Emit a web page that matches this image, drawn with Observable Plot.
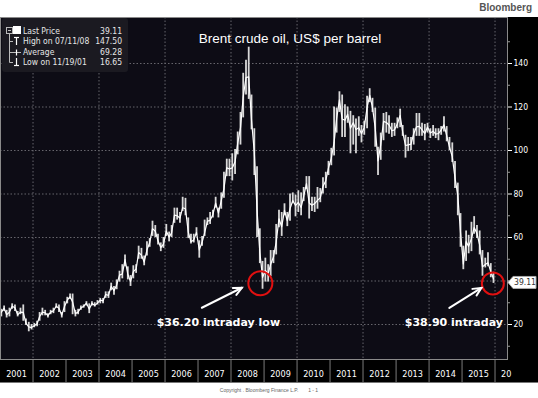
<!DOCTYPE html>
<html><head><meta charset="utf-8">
<script src="https://cdn.jsdelivr.net/npm/d3@7"></script>
<script src="https://cdn.jsdelivr.net/npm/@observablehq/plot@0.6"></script>
<style>
body{margin:0;background:#fff;}
#wrap{position:relative;width:538px;height:398px;overflow:hidden;}
#top{height:17px;position:relative;background:#fff;}
#brand{position:absolute;right:6px;top:2px;font:bold 10px "Liberation Sans",Arial,sans-serif;color:#555;}
#chart svg{display:block;}
#bottom{height:15px;border-top:1px solid #777;background:#fff;text-align:center;font:5px "Liberation Sans",Arial,sans-serif;color:#666;line-height:14px;}
</style></head>
<body><div id="wrap">
<div id="top"><span id="brand">Bloomberg</span></div>
<div id="chart"></div>
<div id="bottom">Copyright . Bloomberg Finance L.P. &nbsp; &nbsp; &nbsp; 1 - 1</div>
</div>
<script>
const title = "Brent crude oil, US$ per barrel";
const yearLabels = ["2001","2002","2003","2004","2005","2006","2007","2008","2009","2010","2011","2012","2013","2014","2015"];
const partialYearLabel = "20";
const yTicks = [20,40,60,80,100,120,140];
const yLabeledTicks = [20,60,80,100,120,140];
const yMinorTicks = [10,30,50,70,90,110,130,150];
const gridYears = [2002,2004,2006,2008,2010,2012,2014,2016];
const legendLabels = ["Last Price","High on 07/11/08","Average","Low on 11/19/01"];
const legendValues = ["39.11","147.50","69.28","16.65"];
const lastPrice = 39.11;
const annoDates = [[2008,11,24],[2015,11,8]];
const annoValues = [36.20, 38.90];
const annoLabels = ["$36.20 intraday low","$38.90 intraday"];

// monthly Brent, Jan 2001 .. Dec 2015
const avg = [
25.6,27.5,24.5,25.7,28.4,27.7,24.5,25.7,25.6,20.5,18.9,18.6,
19.4,20.3,23.7,25.7,25.4,24.1,25.7,26.3,28.4,27.5,24.3,28.3,
31.2,32.8,30.4,25.0,25.8,27.6,28.4,29.8,27.1,29.6,28.8,29.8,
31.2,30.9,33.8,33.4,37.6,35.5,38.2,42.7,43.2,49.8,43.1,39.7,
44.3,45.5,53.1,51.9,48.7,54.3,57.6,64.1,62.9,58.5,55.4,56.9,
62.9,60.2,62.1,70.3,70.0,68.9,73.7,73.2,62.5,58.1,58.9,62.3,
54.3,57.8,62.1,67.5,67.9,70.6,75.8,71.2,77.0,82.5,92.1,91.5,
92.0,94.8,103.3,110.4,124.6,133.5,133.9,113.9,99.1,72.8,53.2,41.6,
44.9,43.4,47.7,51.0,57.9,68.6,64.9,72.5,67.7,73.2,77.0,74.7,
76.2,73.8,78.8,84.8,75.9,74.8,75.6,77.1,78.2,83.5,86.1,92.0,
96.5,103.7,114.6,123.3,114.5,113.9,116.7,110.2,112.8,109.6,110.5,107.7,
110.6,119.7,125.4,119.8,110.3,95.2,102.6,113.4,112.9,111.7,109.1,109.5,
112.3,116.1,108.5,102.3,102.6,102.9,107.7,110.9,111.1,109.5,107.8,110.8,
108.1,108.9,107.5,107.8,109.5,111.8,106.8,101.6,97.1,87.4,79.4,62.3,
47.8,58.1,55.9,59.5,64.6,61.9,56.5,46.5,47.6,48.4,44.3,41.0];
const lo = [
23.5,26.0,23.0,23.5,27.0,26.0,23.5,24.5,21.5,19.5,16.65,17.5,
18.5,19.0,21.5,24.0,24.0,23.0,24.5,25.0,27.5,25.5,23.0,25.5,
29.5,31.5,24.5,23.5,24.5,26.5,27.5,28.5,25.0,28.5,28.0,29.0,
29.5,29.5,32.0,32.0,35.5,33.5,36.0,39.5,41.0,46.5,40.5,37.5,
41.0,43.5,50.0,50.0,47.0,51.5,55.5,60.5,60.0,56.5,53.5,55.0,
60.5,58.0,60.0,66.5,68.0,66.5,72.0,70.0,59.5,57.0,57.5,61.0,
50.5,56.0,60.5,65.5,66.0,69.0,73.5,69.0,73.0,78.0,88.0,88.0,
86.0,89.0,98.0,102.5,115.0,125.5,123.5,109.5,88.5,60.0,48.0,36.2,
39.5,39.5,42.0,48.0,52.0,64.5,60.5,70.0,65.0,67.5,75.5,69.5,
71.5,70.0,76.5,82.0,68.5,72.0,71.5,73.0,76.0,80.0,82.5,88.5,
93.0,97.5,108.0,117.5,106.0,106.0,112.5,98.5,102.5,98.5,106.5,103.5,
107.0,110.0,122.0,117.5,101.5,88.5,95.5,104.5,108.0,107.5,106.0,106.5,
110.0,110.5,106.5,96.5,99.5,100.0,102.5,106.5,106.5,106.5,104.5,108.0,
105.5,106.5,105.5,104.5,107.0,108.5,104.0,100.0,94.5,82.5,70.0,55.5,
45.2,49.0,52.5,53.5,61.5,59.5,52.0,42.2,46.0,46.5,41.5,38.9];
const hi = [
27.0,28.5,26.5,27.5,29.5,29.0,26.0,27.5,29.0,22.5,21.0,20.0,
20.5,21.5,25.5,27.5,26.5,25.0,26.5,27.5,29.5,29.0,25.5,30.5,
32.5,34.0,34.0,26.5,27.0,28.5,29.0,30.5,29.5,30.5,30.0,31.0,
32.0,32.0,35.0,35.0,39.0,37.5,40.5,44.5,47.5,52.0,46.5,42.5,
47.0,47.5,56.0,55.0,51.5,58.0,59.5,67.5,65.5,61.5,57.5,60.0,
66.0,62.5,65.5,73.5,73.5,71.5,78.5,78.0,69.0,61.5,61.5,64.5,
58.5,60.5,68.0,69.0,71.5,72.5,78.5,73.5,80.5,90.0,96.0,96.0,
98.5,100.5,108.5,117.5,135.5,141.5,147.5,125.5,110.0,92.5,64.0,49.0,
50.5,47.5,54.0,54.0,66.0,72.5,71.5,75.5,71.5,80.0,80.5,79.5,
81.5,80.5,83.0,88.0,88.0,78.5,78.5,83.0,82.5,87.5,90.0,95.0,
101.0,120.0,119.5,127.0,125.5,121.0,120.0,118.0,116.0,114.5,115.5,111.5,
113.5,125.0,128.4,124.0,119.5,101.5,108.0,117.0,117.5,116.0,112.5,112.5,
115.0,119.0,111.5,107.0,106.0,106.0,110.0,117.0,117.0,112.5,112.0,112.5,
110.0,111.5,110.0,110.0,111.0,115.5,111.0,106.0,103.5,95.0,85.0,71.0,
56.0,63.0,61.0,67.0,69.6,65.5,63.0,54.0,50.5,53.0,48.0,44.0];

const months = d3.utcMonth.range(new Date(Date.UTC(2001,0,1)), new Date(Date.UTC(2016,0,1)));
const data = months.map((m,i) => ({date: d3.utcDay.offset(m, 14), avg: avg[i], lo: lo[i], hi: hi[i]}));
const yearStarts = yearLabels.slice(1).map(y => new Date(Date.UTC(+y,0,1))).concat([new Date(Date.UTC(2016,0,1))]);
const yearMids = yearLabels.map(y => new Date(Date.UTC(+y,6,2)));
const gridDates = gridYears.map(y => new Date(Date.UTC(y,0,1)));
const annos = annoDates.map((d,i) => ({date: new Date(Date.UTC(...d)), value: annoValues[i], label: annoLabels[i]}));

const font = "DejaVu Sans Condensed, DejaVu Sans, sans-serif";

function tagMark(index, scales, values, dim) {
  const g = d3.create("svg:g");
  const y = scales.y(lastPrice), x0 = dim.width - dim.marginRight;
  g.append("path").attr("d", `M${x0+1},${y} L${x0+6},${y-6} H${x0+29} V${y+6} H${x0+6} Z`)
    .attr("fill", "#fff").attr("stroke", "#aaa");
  g.append("text").attr("x", x0+18).attr("y", y).attr("dy", "0.36em").attr("text-anchor", "middle")
    .attr("font-size", 8.5).attr("font-family", font).attr("fill", "#333").text(lastPrice.toFixed(2));
  return g.node();
}

function arrowMark(index, scales) {
  const g = d3.create("svg:g").attr("stroke", "#fff").attr("stroke-width", 2).attr("fill", "none").attr("stroke-linecap", "round");
  const offs = [[-61, 19, -21, -1], [-43, 25, -11, 5]];
  annos.forEach((a, i) => {
    const px = scales.x(a.date), py = scales.y(a.value);
    const [sx, sy, ex, ey] = offs[i];
    const x1 = px + sx, y1 = py + sy, x2 = px + ex, y2 = py + ey;
    const ang = Math.atan2(y2 - y1, x2 - x1), L = 9, w = 0.45;
    g.append("line").attr("x1", x1).attr("y1", y1).attr("x2", x2).attr("y2", y2);
    g.append("path").attr("d",
      `M${x2 - L*Math.cos(ang - w)},${y2 - L*Math.sin(ang - w)} L${x2},${y2} L${x2 - L*Math.cos(ang + w)},${y2 - L*Math.sin(ang + w)}`);
  });
  return g.node();
}

function legendMark() {
  const g = d3.create("svg:g").attr("font-family", font).attr("font-size", 8.5).attr("text-anchor", "start");
  g.append("rect").attr("x", 2).attr("y", 1).attr("width", 126).attr("height", 54).attr("rx", 3).attr("fill", "#1b1a21");
  const rows = [14, 24, 35, 45];
  const t = g.append("g").attr("stroke", "#bbb").attr("fill", "none").attr("stroke-width", 1);
  t.append("rect").attr("x", 6.5).attr("y", 10.5).attr("width", 6).attr("height", 6);
  t.append("line").attr("x1", 8).attr("x2", 11).attr("y1", 13.5).attr("y2", 13.5);
  t.append("line").attr("x1", 9.5).attr("x2", 9.5).attr("y1", 16.5).attr("y2", 45.5);
  t.append("line").attr("x1", 9.5).attr("x2", 13).attr("y1", 24.5).attr("y2", 24.5);
  t.append("line").attr("x1", 9.5).attr("x2", 21).attr("y1", 35.5).attr("y2", 35.5);
  t.append("line").attr("x1", 9.5).attr("x2", 13).attr("y1", 45.5).attr("y2", 45.5);
  const w = g.append("g").attr("stroke", "#fff").attr("stroke-width", 1.2);
  g.append("rect").attr("x", 13).attr("y", 9).attr("width", 8).attr("height", 8).attr("fill", "#fff");
  w.append("line").attr("x1", 16.5).attr("x2", 16.5).attr("y1", 20).attr("y2", 28);
  w.append("line").attr("x1", 14).attr("x2", 19).attr("y1", 20.5).attr("y2", 20.5);
  w.append("line").attr("x1", 16.5).attr("x2", 16.5).attr("y1", 32.5).attr("y2", 38.5);
  w.append("line").attr("x1", 16.5).attr("x2", 16.5).attr("y1", 41).attr("y2", 49);
  w.append("line").attr("x1", 14).attr("x2", 19).attr("y1", 48.5).attr("y2", 48.5);
  legendLabels.forEach((l, i) => {
    g.append("text").attr("x", 23).attr("y", rows[i]).attr("dy", "0.35em").attr("text-anchor", "start").attr("fill", "#e6e6e6").text(l);
    g.append("text").attr("x", 122).attr("y", rows[i]).attr("dy", "0.35em").attr("text-anchor", "end").attr("fill", "#e6e6e6").text(legendValues[i]);
  });
  return g.node();
}

const chart = Plot.plot({
  width: 538, height: 365,
  marginTop: 0, marginBottom: 23, marginLeft: 0, marginRight: 31,
  style: {background: "#000", color: "#fff", fontFamily: font, fontSize: "9px", overflow: "visible"},
  x: {type: "utc", domain: [new Date(Date.UTC(2001,0,6)), new Date(Date.UTC(2016,4,18))], label: null},
  y: {domain: [3.91, 161.15], label: null},
  marks: [
    Plot.frame({fill: "#0d0c15"}),
    Plot.gridY(yTicks, {stroke: "#66656c", strokeOpacity: 1, strokeDasharray: "1.5,2"}),
    Plot.gridX(gridDates, {stroke: "#66656c", strokeOpacity: 1, strokeDasharray: "1.5,2"}),
    Plot.axisX(yearStarts, {anchor: "bottom", tickSize: 23, tickFormat: () => "", stroke: "#7a7a7a", label: null}),
    Plot.text(yearLabels, {x: (d, i) => yearMids[i], text: d => d, frameAnchor: "bottom", dy: 17, fill: "#fff", fontSize: 9, fontFamily: font}),
    Plot.text([partialYearLabel], {x: () => yearStarts[yearStarts.length - 1], text: d => d, frameAnchor: "bottom", dy: 17, dx: 6, textAnchor: "start", fill: "#fff", fontSize: 9, fontFamily: font}),
    Plot.axisY(yMinorTicks, {anchor: "right", tickSize: 2, tickFormat: () => "", stroke: "#999", label: null}),
    Plot.axisY(yTicks, {anchor: "right", tickSize: 4, tickFormat: () => "", stroke: "#fff", label: null}),
    Plot.axisY(yLabeledTicks, {anchor: "right", tickSize: 0, tickPadding: 6, fill: "#fff", fontSize: 8.5, label: null}),
    Plot.ruleX(data, {x: "date", y1: "lo", y2: "hi", stroke: "#d8d8d8", strokeWidth: 1.8}),
    Plot.line(data, {x: "date", y: "avg", stroke: "#fff", strokeWidth: 1.2}),
    Plot.frame({stroke: "#8a8a8a"}),
    Plot.text([title], {text: d => d, frameAnchor: "top", dx: 36, dy: 16, fill: "#fff", fontSize: 13.5, fontFamily: "Liberation Sans, Arial, sans-serif"}),
    Plot.dot([annos[0]], {x: "date", y: "value", r: 12, stroke: "#e01010", strokeWidth: 2, dx: -3, dy: -6}),
    Plot.dot([annos[1]], {x: "date", y: "value", r: 11, stroke: "#e01010", strokeWidth: 2}),
    arrowMark,
    Plot.text([annos[0]], {x: "date", y: "value", text: "label", dx: -45, dy: 33, fill: "#fff", fontSize: 11, fontWeight: "bold", fontFamily: "DejaVu Sans, sans-serif"}),
    Plot.text([annos[1]], {x: "date", y: "value", text: "label", dx: -39, dy: 39, fill: "#fff", fontSize: 11, fontWeight: "bold", fontFamily: "DejaVu Sans, sans-serif"}),
    tagMark,
    legendMark
  ]
});
document.getElementById("chart").appendChild(chart);
</script>
</body></html>
